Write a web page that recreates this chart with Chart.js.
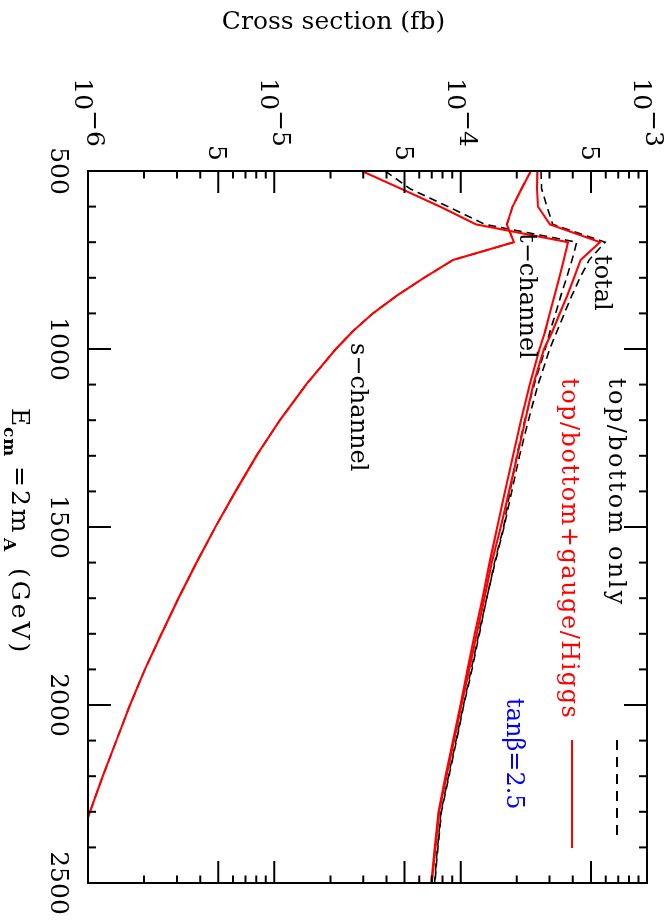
<!DOCTYPE html>
<html><head><meta charset="utf-8">
<script src="https://cdn.jsdelivr.net/npm/chart.js@4.4.1/dist/chart.umd.min.js"></script>
<style>
html,body{margin:0;padding:0;background:#fff;overflow:hidden;width:667px;height:921px;}
#wrap{position:absolute;left:0;top:0;width:921px;height:667px;transform-origin:0 0;transform:translateX(667px) rotate(90deg);}
canvas{display:block;}
</style></head><body>
<div id="wrap"><canvas id="c" width="921" height="667"></canvas></div>
<script>
// E_cm = 2 m_A (GeV)
const energies = [500,550,600,650,700,750,800,850,900,950,1000,1100,1200,1300,1400,1500,1600,1700,1800,1900,2000,2100,2200,2300,2400,2500];
// cross sections (fb), top/bottom + gauge/Higgs (red solid)
const totalFull    = [2.58e-4,2.57e-4,2.60e-4,3.01e-4,5.60e-4,4.40e-4,4.06e-4,3.73e-4,3.40e-4,3.11e-4,2.80e-4,2.45e-4,2.22e-4,2.01e-4,1.82e-4,1.64e-4,1.47e-4,1.34e-4,1.22e-4,1.11e-4,1.01e-4,9.2e-5,8.4e-5,7.66e-5,7.33e-5,7.0e-5];
const tChannelFull = [2.94e-5,4.79e-5,7.75e-5,1.21e-4,3.77e-4,3.57e-4,3.38e-4,3.19e-4,3.01e-4,2.84e-4,2.65e-4,2.35e-4,2.11e-4,1.91e-4,1.73e-4,1.57e-4,1.43e-4,1.31e-4,1.19e-4,1.09e-4,9.98e-5,9.1e-5,8.3e-5,7.6e-5,7.27e-5,6.96e-5];
const sChannelFull = [2.38e-4,2.12e-4,1.90e-4,1.77e-4,1.93e-4,9.10e-5,6.36e-5,4.55e-5,3.38e-5,2.64e-5,2.14e-5,1.48e-5,1.07e-5,8.02e-6,6.19e-6,4.83e-6,3.82e-6,3.06e-6,2.48e-6,2.02e-6,1.68e-6,1.42e-6,1.20e-6,1.025e-6,8.73e-7,7.43e-7];
// top/bottom only (black dashed)
const totalTB      = [2.70e-4,2.72e-4,2.90e-4,3.12e-4,5.96e-4,4.89e-4,4.37e-4,3.95e-4,3.60e-4,3.29e-4,3.01e-4,2.60e-4,2.31e-4,2.07e-4,1.88e-4,1.71e-4,1.53e-4,1.38e-4,1.26e-4,1.15e-4,1.04e-4,9.5e-5,8.65e-5,7.88e-5,7.55e-5,7.27e-5];
const tChannelTB   = [3.93e-5,5.35e-5,8.55e-5,1.35e-4,4.20e-4,3.96e-4,3.70e-4,3.45e-4,3.23e-4,3.02e-4,2.84e-4,2.48e-4,2.21e-4,2.00e-4,1.84e-4,1.70e-4,1.52e-4,1.38e-4,1.25e-4,1.14e-4,1.035e-4,9.44e-5,8.6e-5,7.84e-5,7.51e-5,7.24e-5];
const sChannelTB   = [2.38e-4,2.12e-4,1.90e-4,1.77e-4,1.93e-4,9.10e-5,6.36e-5,4.55e-5,3.38e-5,2.64e-5,2.14e-5,1.48e-5,1.07e-5,8.02e-6,6.19e-6,4.83e-6,3.82e-6,3.06e-6,2.48e-6,2.02e-6,1.68e-6,1.42e-6,1.20e-6,1.025e-6,8.73e-7,7.43e-7];

const xMin = 500, xMax = 2500, yMin = 1e-6, yMax = 1e-3;
const xMajorTicks = [500,1000,1500,2000,2500];
const yDecades = [-6,-5,-4,-3];

const RED = '#ff0000', BLACK = '#000000', BLUE = '#0000ff';
const FONT = '"DejaVu Serif"';

function series(label, vals, color, dashed, order){
  return {
    label,
    data: energies.map((e,i)=>({x:e, y:vals[i]})),
    borderColor: color,
    borderWidth: dashed ? 1.6 : 2.1,
    borderDash: dashed ? [8,5] : [],
    pointRadius: 0,
    fill: false,
    tension: 0,
    order
  };
}

const framePlugin = {
  id: 'frame',
  afterDraw(chart){
    const ctx = chart.ctx, a = chart.chartArea;
    const xs = chart.scales.x, ys = chart.scales.y;
    ctx.save();
    ctx.strokeStyle = BLACK; ctx.lineWidth = 2;
    ctx.strokeRect(a.left, a.top, a.right - a.left, a.bottom - a.top);
    ctx.beginPath();
    for (let e = xMin; e <= xMax; e += 100){
      const px = xs.getPixelForValue(e);
      const len = (e % 500 === 0) ? 23 : 8;
      ctx.moveTo(px, a.bottom); ctx.lineTo(px, a.bottom - len);
      ctx.moveTo(px, a.top); ctx.lineTo(px, a.top + len);
    }
    for (const n of yDecades){
      for (let m = 1; m <= 9; m++){
        const v = m * Math.pow(10, n);
        if (v < yMin*0.999 || v > yMax*1.001) continue;
        const py = ys.getPixelForValue(v);
        const len = (m === 1 || m === 5) ? 22 : 7.5;
        ctx.moveTo(a.left, py); ctx.lineTo(a.left + len, py);
        ctx.moveTo(a.right, py); ctx.lineTo(a.right - len, py);
      }
    }
    ctx.stroke();

    ctx.fillStyle = BLACK;
    ctx.font = '25px ' + FONT;
    ctx.textAlign = 'right';
    ctx.textBaseline = 'alphabetic';
    for (const n of yDecades){
      const py = ys.getPixelForValue(Math.pow(10, n));
      const ex = '\u2212' + Math.abs(n);
      const w2 = ctx.measureText(ex).width;
      ctx.fillText(ex, 147, py + 1);
      ctx.fillText('10', 147 - w2, py + 13);
      if (n < -3){
        const p5 = ys.getPixelForValue(5 * Math.pow(10, n));
        ctx.fillText('5', 161, p5 + 9);
      }
    }
    ctx.textAlign = 'center';
    for (const e of xMajorTicks){
      ctx.fillText(String(e), xs.getPixelForValue(e), 616);
    }
    // x title: E_cm=2m_A (GeV)
    ctx.textAlign = 'left';
    ctx.font = '25px ' + FONT;
    ctx.fillText('E', 408, 655);
    ctx.font = 'bold 17px ' + FONT;
    ctx.letterSpacing = '1px';
    ctx.fillText('cm', 427, 663);
    ctx.font = '25px ' + FONT;
    ctx.letterSpacing = '3px';
    ctx.fillText('=2m', 466, 655);
    ctx.font = 'bold 17px ' + FONT;
    ctx.letterSpacing = '0px';
    ctx.fillText('A', 538, 663);
    ctx.font = '25px ' + FONT;
    ctx.letterSpacing = '3px';
    ctx.fillText('(GeV)', 568, 655);
    ctx.letterSpacing = '0px';
    // y title
    ctx.save();
    ctx.translate(29, 333.5);
    ctx.rotate(-Math.PI/2);
    ctx.textAlign = 'center';
    ctx.font = '25px ' + FONT;
    ctx.fillText('Cross section (fb)', 0, 0);
    ctx.restore();

    // curve labels
    ctx.font = '24px ' + FONT;
    ctx.textAlign = 'left';
    ctx.fillText('total', 255, 72);
    ctx.fillText('t\u2212channel', 233, 147);
    ctx.fillText('s\u2212channel', 343, 316);

    // legend
    ctx.letterSpacing = '2.4px';
    ctx.fillStyle = BLACK;
    ctx.fillText('top/bottom only', 378, 58);
    ctx.letterSpacing = '1.5px';
    ctx.fillStyle = RED;
    ctx.fillText('top/bottom+gauge/Higgs', 378, 105);
    ctx.fillStyle = BLUE;
    ctx.letterSpacing = '0px';
    ctx.fillText('tan\u03B2=2.5', 698, 160);

    ctx.lineWidth = 2;
    ctx.strokeStyle = BLACK;
    ctx.setLineDash([10,7]);
    ctx.beginPath(); ctx.moveTo(740, 50); ctx.lineTo(842, 50); ctx.stroke();
    ctx.setLineDash([]);
    ctx.strokeStyle = RED;
    ctx.beginPath(); ctx.moveTo(740, 95); ctx.lineTo(848, 95); ctx.stroke();
    ctx.restore();
  }
};

new Chart(document.getElementById('c'), {
  type: 'line',
  data: {
    datasets: [
      // lower "order" is drawn on top: red curves above the dashed ones
      series('total', totalFull, RED, false, 1),
      series('t-channel', tChannelFull, RED, false, 1),
      series('s-channel', sChannelFull, RED, false, 1),
      series('total (top/bottom only)', totalTB, BLACK, true, 2),
      series('t-channel (top/bottom only)', tChannelTB, BLACK, true, 2),
      series('s-channel (top/bottom only)', sChannelTB, BLACK, true, 2)
    ]
  },
  options: {
    responsive: false,
    animation: false,
    devicePixelRatio: 1,
    layout: { padding: { left: 171, right: 38, top: 20, bottom: 88 } },
    plugins: { legend: { display: false }, tooltip: { enabled: false } },
    scales: {
      x: { type: 'linear', min: xMin, max: xMax, display: false },
      y: { type: 'logarithmic', min: yMin, max: yMax, display: false }
    }
  },
  plugins: [framePlugin]
});
</script>
</body></html>
